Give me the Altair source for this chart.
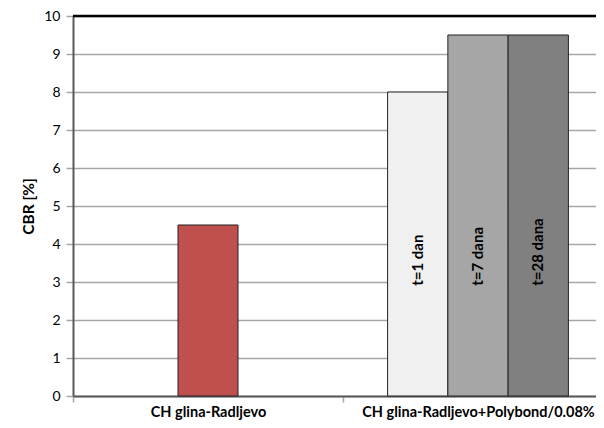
import altair as alt
import pandas as pd

categories = ["CH glina-Radljevo", "CH glina-Radljevo+Polybond/0.08%"]
base_values = [4.5]
cure_labels = ["t=1 dan", "t=7 dana", "t=28 dana"]
cure_values = [8.0, 9.5, 9.5]
base_color = "#C0504D"
cure_colors = ["#F0F0F0", "#A6A6A6", "#808080"]
y_ticks = list(range(0, 11))
label_pos = 2.9

FONT = "Lato"

base_df = pd.DataFrame({"cat": [categories[0]], "v": base_values})
cure_df = pd.DataFrame({"cat": [categories[1]] * 3, "t": cure_labels, "v": cure_values})

x_scale = alt.Scale(domain=categories, paddingInner=0, paddingOuter=0)
y_scale = alt.Scale(domain=[0, 10], nice=False)

x_axis = alt.Axis(title=None, tickBand="extent", labelAngle=0, grid=False, labelLimit=400)
y_axis = alt.Axis(title="CBR [%]", values=y_ticks, grid=True)

base = alt.Chart(base_df).mark_bar(width=60, color=base_color, stroke="#222222", strokeWidth=1).encode(
    x=alt.X("cat:N", scale=x_scale, axis=x_axis, sort=categories),
    y=alt.Y("v:Q", scale=y_scale, axis=y_axis),
)

off_scale = alt.Scale(domain=cure_labels, paddingInner=0, paddingOuter=0.74)

cure = alt.Chart(cure_df).mark_bar(stroke="#222222", strokeWidth=1).encode(
    x=alt.X("cat:N", scale=x_scale, axis=x_axis, sort=categories),
    xOffset=alt.XOffset("t:N", scale=off_scale, sort=cure_labels),
    y=alt.Y("v:Q", scale=y_scale, axis=y_axis),
    color=alt.Color("t:N", scale=alt.Scale(domain=cure_labels, range=cure_colors), legend=None),
)

texts = alt.Chart(cure_df).mark_text(angle=270, align="left", baseline="middle",
                                     font=FONT, fontSize=15, fontWeight="bold", color="#000000").encode(
    x=alt.X("cat:N", scale=x_scale, axis=x_axis, sort=categories),
    xOffset=alt.XOffset("t:N", scale=off_scale, sort=cure_labels),
    y=alt.Y(datum=label_pos, scale=y_scale, axis=y_axis),
    text="t:N",
)

top = alt.Chart(pd.DataFrame({"y": [10]})).mark_rule(color="#000000", strokeWidth=2.5).encode(
    y=alt.Y("y:Q", scale=y_scale, axis=y_axis)
)

chart = alt.layer(base, cure, texts, top).properties(
    width=540, height=380,
    autosize=alt.AutoSizeParams(type="none"),
    padding={"left": 65, "top": 8, "right": -17, "bottom": 24},
    background="#ffffff",
).configure_view(stroke=None).configure_axisX(
    labelFontWeight="bold", labelFontSize=14.5, labelFont=FONT, labelColor="#000000",
    tickSize=6, tickColor="#a6a6a6", tickWidth=1.5,
    domainColor="#595959", domainWidth=2, labelPadding=3,
).configure_axisY(
    titleFont=FONT, titleFontSize=15.5, titleFontWeight="bold", titleColor="#000000", titlePadding=7,
    labelFont=FONT, labelFontSize=14, labelColor="#000000", labelPadding=6,
    tickSize=7, tickColor="#a6a6a6", tickWidth=1.5,
    domainColor="#595959", domainWidth=2,
    gridColor="#a6a6a6", gridWidth=1.5,
)

chart.save("out.html", embed_options={"renderer": "svg", "actions": False})
